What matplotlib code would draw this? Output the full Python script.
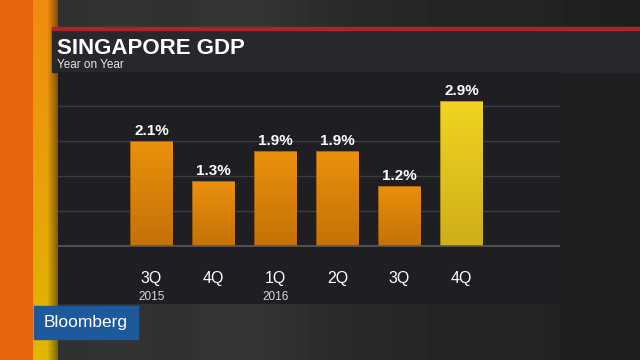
import numpy as np
import matplotlib
matplotlib.use('Agg')
from matplotlib import pyplot as plt
from matplotlib.patches import Rectangle
from matplotlib.colors import LinearSegmentedColormap

plt.rcParams['font.family'] = ['Liberation Sans', 'DejaVu Sans']

quarters = ['3Q', '4Q', '1Q', '2Q', '3Q', '4Q']
years = ['2015', '', '2016', '', '', '']
gdp = [2.1, 1.3, 1.9, 1.9, 1.2, 2.9]
grid_levels = [0.7, 1.4, 2.1, 2.8]

title = 'SINGAPORE GDP'
subtitle = 'Year on Year'

orange = ('#ea900c', '#c47208')
yellow = ('#f0d420', '#cfae1a')


def vgrad(top, bottom):
    return LinearSegmentedColormap.from_list('g', [bottom, top])


fig = plt.figure(figsize=(6.4, 3.6), dpi=100)

# background in pixel coords
bg = fig.add_axes([0, 0, 1, 1])
bg.set_xlim(0, 640)
bg.set_ylim(360, 0)
bg.axis('off')

# studio backdrop: dark gray bands
shade = np.array([[0.19, 0.21, 0.18, 0.22, 0.20, 0.17, 0.16, 0.15, 0.14, 0.15, 0.13, 0.12]])
bg.imshow(shade, extent=(55, 640, 360, 0), cmap='gray', vmin=0, vmax=1,
          aspect='auto', interpolation='bicubic', zorder=0)
bg.add_patch(Rectangle((560, 72), 80, 288, color='#1e2020', zorder=1))

# orange / yellow stripes on the left
bg.add_patch(Rectangle((0, 0), 34, 360, color='#e8640c', zorder=2))
strip = np.linspace(0, 1, 50).reshape(-1, 1)
bg.imshow(strip, extent=(33, 58, 360, 0), cmap=vgrad('#e0b800', '#f08c10'),
          aspect='auto', zorder=2)
bg.imshow(np.linspace(0, 1, 20).reshape(1, -1), extent=(47, 58, 360, 0),
          cmap=LinearSegmentedColormap.from_list('s', [(0, 0, 0, 0), (0, 0, 0, 0.45)]),
          aspect='auto', zorder=2)

# title band
bg.add_patch(Rectangle((52, 28), 588, 44, color='#28282c', zorder=3))
bg.add_patch(Rectangle((52, 27), 588, 3, color='#a8262a', zorder=4))
bg.text(57, 54, title, color='white', fontsize=16, fontweight='bold',
        ha='left', va='baseline', zorder=5)
bg.text(57, 68, subtitle, color='#e6e6e6', fontsize=8.5,
        ha='left', va='baseline', zorder=5)

# Bloomberg tag
bg.add_patch(Rectangle((34, 306), 104, 33, color='#1c5a9c', zorder=6))
bg.text(86, 323, 'Bloomberg', color='white', fontsize=12.5,
        ha='center', va='center', zorder=7)

# chart panel
ax = fig.add_axes([58 / 640, (360 - 304) / 360, (560 - 58) / 640, (304 - 72) / 360])
ax.set_facecolor('#1f1f23')
for s in ax.spines.values():
    s.set_visible(False)
ax.set_xticks([])
ax.set_yticks([])

for g in grid_levels:
    ax.axhline(g, color='#3c3c40', lw=1, zorder=1)
ax.axhline(0, color='#5a5a5e', lw=1.2, zorder=4)

x = np.arange(len(gdp))
bars = ax.bar(x, gdp, width=0.68, color='none', edgecolor='#00000055', lw=0.6, zorder=3)
for i, b in enumerate(bars):
    top, bot = yellow if i == len(gdp) - 1 else orange
    im = ax.imshow(strip, extent=(b.get_x(), b.get_x() + b.get_width(), 0, b.get_height()),
                   cmap=vgrad(top, bot), origin='lower', aspect='auto', zorder=2)
    im.set_clip_path(b)
    ax.text(x[i], gdp[i] + 0.06, f'{gdp[i]:.1f}%', color='white', fontsize=11,
            fontweight='bold', ha='center', va='bottom', zorder=5)
    ax.text(x[i], -0.65, quarters[i], color='white', fontsize=11.5,
            ha='center', va='center', zorder=5)
    if years[i]:
        ax.text(x[i], -1.03, years[i], color='#d8d8d8', fontsize=8.5,
                ha='center', va='center', zorder=5)

ax.set_xlim(-1.508, 6.59)
ax.set_ylim(-1.17, 3.49)

fig.savefig('out.png', dpi=100)
